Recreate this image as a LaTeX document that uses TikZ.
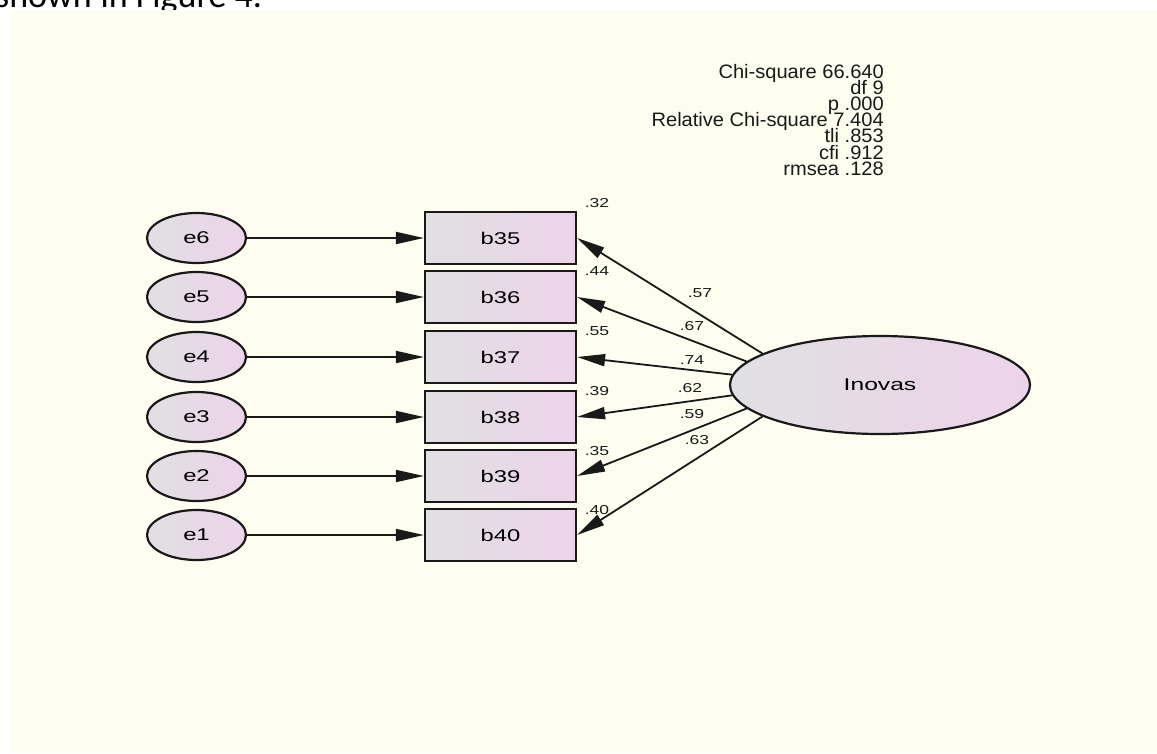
\documentclass[tikz,border=0pt]{standalone}
\usepackage{fontspec}
\usepackage{graphicx}
\setmainfont{Liberation Sans}
\newfontfamily\carl{Carlito}
\usetikzlibrary{arrows.meta,shapes.geometric}
\definecolor{bg}{RGB}{253,254,240}
\definecolor{lc}{RGB}{224,224,226}
\definecolor{rc}{RGB}{237,211,234}
\definecolor{ink}{RGB}{25,25,25}
\newcommand{\hst}[2]{\scalebox{#1}[1]{#2}}
\newcommand{\fitfont}{\fontsize{19.5}{16.2}\selectfont\lineskiplimit=-30pt\relax\lineskip=0pt\relax}
\begin{document}
\begin{tikzpicture}[x=1pt,y=-1pt,
  latent/.style={ellipse, draw=ink, line width=2.2pt, left color=lc, right color=rc,
    inner sep=0pt, minimum width=99pt, minimum height=50pt,
    font=\fontsize{17}{17}\selectfont},
  obs/.style={rectangle, draw=ink, line width=2.2pt, left color=lc, right color=rc,
    inner sep=0pt, minimum width=151pt, minimum height=52pt,
    font=\fontsize{17}{17}\selectfont},
  arr/.style={draw=ink, line width=1.8pt, -{Triangle[length=28pt,width=12pt]}},
  coef/.style={font=\fontsize{13}{13}\selectfont, text=ink, inner sep=0pt},
  fitl/.style={font=\fitfont, text=ink, inner sep=0pt, align=right}
]
\useasboundingbox (0,0) rectangle (1157,753);
% cropped caption text
\node[anchor=base west, inner sep=0pt, font=\carl\fontsize{36}{36}\selectfont] (cap) at (-5,7) {shown\hspace{9pt}in Figure 4.};
\fill[bg] (11,10) rectangle (1157,753);

% error terms
\foreach \i/\y in {6/238,5/297,4/357,3/417,2/476,1/535}{
  \node[latent] (e\i) at (196.5,\y) {\hst{1.4}{e\i}};
}
% observed
\foreach \n/\y in {35/238,36/297,37/357,38/417,39/476,40/535}{
  \node[obs] (b\n) at (500.5,\y) {\hst{1.4}{b\n}};
}
\node[latent, minimum width=300pt, minimum height=98pt] (inov) at (880,385) {\hst{1.45}{Inovas}};

% error arrows
\draw[arr] (e6) -- (b35);
\draw[arr] (e5) -- (b36);
\draw[arr] (e4) -- (b37);
\draw[arr] (e3) -- (b38);
\draw[arr] (e2) -- (b39);
\draw[arr] (e1) -- (b40);

% loadings
\draw[arr] (inov.165) -- (b35.east);
\draw[arr] (inov.170) -- (b36.east);
\draw[arr] (inov.176) -- (b37.east);
\draw[arr] (inov.184) -- (b38.east);
\draw[arr] (inov.190) -- (b39.east);
\draw[arr] (inov.195) -- (b40.east);

% loading labels
\node[coef] (l35) at (700,293) {\hst{1.35}{.57}};
\node[coef] (l36) at (692,326) {\hst{1.35}{.67}};
\node[coef] (l37) at (692,360) {\hst{1.35}{.74}};
\node[coef] (l38) at (690,388) {\hst{1.35}{.62}};
\node[coef] (l39) at (692,414) {\hst{1.35}{.59}};
\node[coef] (l40) at (697,440) {\hst{1.35}{.63}};

% R-squared labels
\node[coef] (r35) at (597,203) {\hst{1.35}{.32}};
\node[coef] (r36) at (597,271) {\hst{1.35}{.44}};
\node[coef] (r37) at (597,331) {\hst{1.35}{.55}};
\node[coef] (r38) at (597,391) {\hst{1.35}{.39}};
\node[coef] (r39) at (597,451) {\hst{1.35}{.35}};
\node[coef] (r40) at (597,510) {\hst{1.35}{.40}};

% fit statistics
\node[fitl, anchor=north east] (fit) at (884,63.8) {%
\hst{1.03}{Chi-square 66.640}\\
\hst{1.03}{df 9}\\
\hst{1.03}{p .000}\\
\hst{1.03}{Relative Chi-square 7.404}\\
\hst{1.03}{tli .853}\\
\hst{1.03}{cfi .912}\\
\hst{1.03}{rmsea .128}};
\end{tikzpicture}
\end{document}
